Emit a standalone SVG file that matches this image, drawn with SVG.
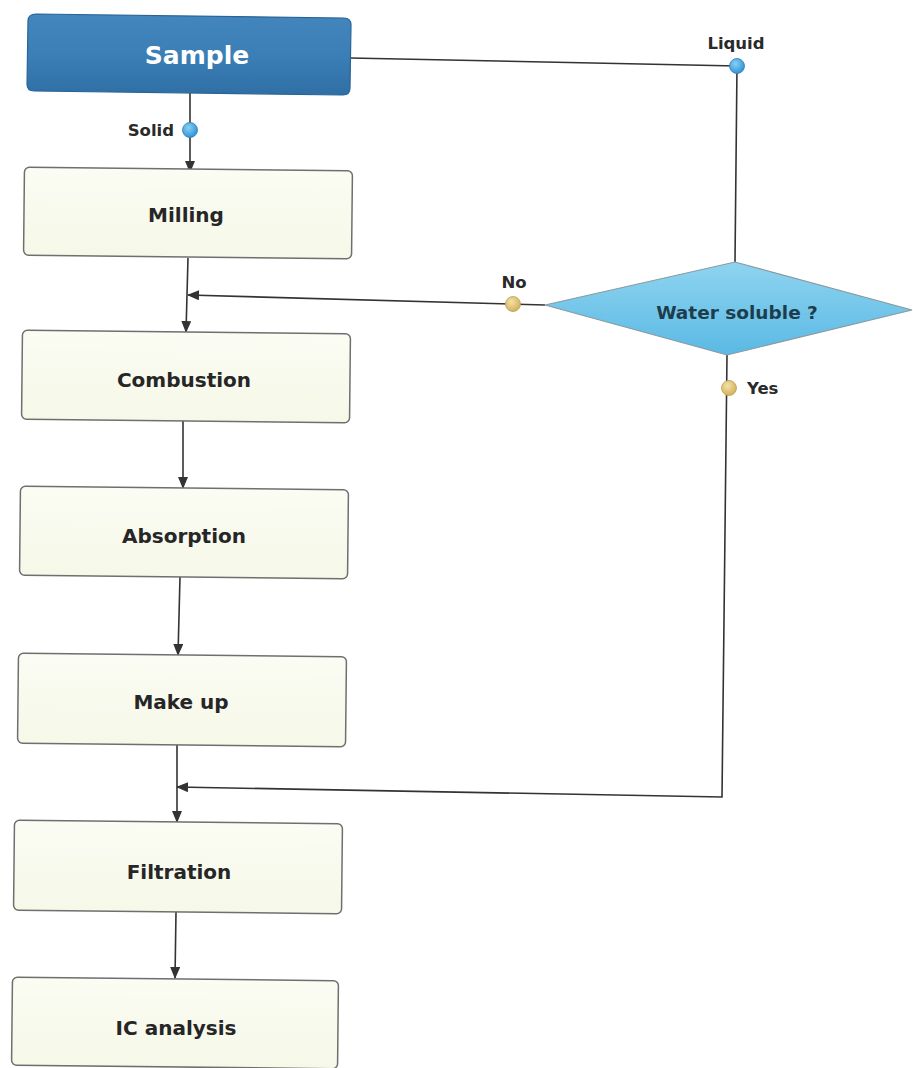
<svg xmlns="http://www.w3.org/2000/svg" width="913" height="1068" viewBox="0 0 913 1068">
<defs>
<linearGradient id="gSample" x1="0" y1="0" x2="0" y2="1">
<stop offset="0" stop-color="#4286bd"/>
<stop offset="0.5" stop-color="#3b7fb6"/>
<stop offset="1" stop-color="#2f6fa5"/>
</linearGradient>
<linearGradient id="gBox" x1="0" y1="0" x2="0" y2="1">
<stop offset="0" stop-color="#fbfcf3"/>
<stop offset="1" stop-color="#f6f8e8"/>
</linearGradient>
<linearGradient id="gDia" x1="0" y1="0" x2="0" y2="1">
<stop offset="0" stop-color="#8fd4f0"/>
<stop offset="1" stop-color="#5ab9e4"/>
</linearGradient>
<radialGradient id="gBlue" cx="0.4" cy="0.35" r="0.7">
<stop offset="0" stop-color="#8ad0f5"/>
<stop offset="1" stop-color="#2a8fd0"/>
</radialGradient>
<radialGradient id="gTan" cx="0.4" cy="0.35" r="0.7">
<stop offset="0" stop-color="#f3e2a6"/>
<stop offset="1" stop-color="#cfae5a"/>
</radialGradient>
<marker id="arr" markerWidth="12" markerHeight="10" refX="11" refY="5" orient="auto" markerUnits="userSpaceOnUse">
<path d="M0,0 L12,5 L0,10 Z" fill="#333"/>
</marker>
</defs>
<style>
.box{fill:url(#gBox);stroke:#6f6f6f;stroke-width:1.5}
.lbl{font-family:"DejaVu Sans",Verdana,sans-serif;font-weight:bold;font-size:20px;fill:#262626;text-anchor:middle}
.small{font-family:"DejaVu Sans",Verdana,sans-serif;font-weight:bold;font-size:16.5px;fill:#2a2a2a}
.ln{fill:none;stroke:#333;stroke-width:1.6}
.bdot{fill:url(#gBlue);stroke:#2a80c0;stroke-width:0.8}
.tdot{fill:url(#gTan);stroke:#c0a050;stroke-width:0.8}
</style>
<rect width="913" height="1068" fill="#ffffff"/>

<g id="connectors">
<path class="ln" d="M190,93 L190,172" marker-end="url(#arr)"/>
<path class="ln" d="M350,58 L737,66 L735,262"/>
<path class="ln" d="M188,258 L186,332" marker-end="url(#arr)"/>
<path class="ln" d="M545,305 L188,295" marker-end="url(#arr)"/>
<path class="ln" d="M183,420 L183,488" marker-end="url(#arr)"/>
<path class="ln" d="M180,577 L178,655" marker-end="url(#arr)"/>
<path class="ln" d="M177,745 L177,822" marker-end="url(#arr)"/>
<path class="ln" d="M727,355 L722,797 L177,787" marker-end="url(#arr)"/>
<path class="ln" d="M176,912 L175,978" marker-end="url(#arr)"/>
<circle class="bdot" cx="190" cy="130" r="7.5"/>
<text class="small" x="174" y="136" text-anchor="end">Solid</text>
<circle class="bdot" cx="737" cy="66" r="7.5"/>
<text class="small" x="736" y="49" text-anchor="middle">Liquid</text>
<circle class="tdot" cx="513" cy="304" r="7.5"/>
<text class="small" x="514" y="288" text-anchor="middle">No</text>
<circle class="tdot" cx="729" cy="388" r="7.5"/>
<text class="small" x="747" y="394">Yes</text>
</g>

<g id="sample">
<path d="M36,14 L344,18 Q351,18 351,25 L350,88 Q350,95 343,95 L34,91 Q27,91 27,84 L28,21 Q28,14 36,14 Z" fill="url(#gSample)" stroke="#2a6496" stroke-width="1.2"/>
<text x="197" y="64" font-family="'DejaVu Sans',Verdana,sans-serif" font-weight="bold" font-size="25" fill="#ffffff" text-anchor="middle">Sample</text>
</g>

<g id="milling">
<rect class="box" x="24" y="169" width="328" height="88" rx="5" transform="rotate(0.6 188 213)"/>
<text class="lbl" x="186" y="222">Milling</text>
</g>

<g id="combustion">
<rect class="box" x="22" y="332" width="328" height="89" rx="5" transform="rotate(0.6 186 376)"/>
<text class="lbl" x="184" y="387">Combustion</text>
</g>

<g id="absorption">
<rect class="box" x="20" y="488" width="328" height="89" rx="5" transform="rotate(0.6 184 532)"/>
<text class="lbl" x="184" y="543">Absorption</text>
</g>

<g id="makeup">
<rect class="box" x="18" y="655" width="328" height="90" rx="5" transform="rotate(0.6 182 700)"/>
<text class="lbl" x="181" y="709">Make up</text>
</g>

<g id="filtration">
<rect class="box" x="14" y="822" width="328" height="90" rx="5" transform="rotate(0.6 178 867)"/>
<text class="lbl" x="179" y="879">Filtration</text>
</g>

<g id="ic">
<rect class="box" x="12" y="979" width="326" height="88" rx="5" transform="rotate(0.6 175 1023)"/>
<text class="lbl" x="176" y="1035">IC analysis</text>
</g>

<g id="water">
<path d="M545,305 L735,262 L912,310 L727,355 Z" fill="url(#gDia)" stroke="#8a9aa0" stroke-width="1.2"/>
<text x="737" y="319" font-family="'DejaVu Sans',Verdana,sans-serif" font-weight="bold" font-size="18.5" fill="#1d3d4d" text-anchor="middle">Water soluble ?</text>
</g>
</svg>
